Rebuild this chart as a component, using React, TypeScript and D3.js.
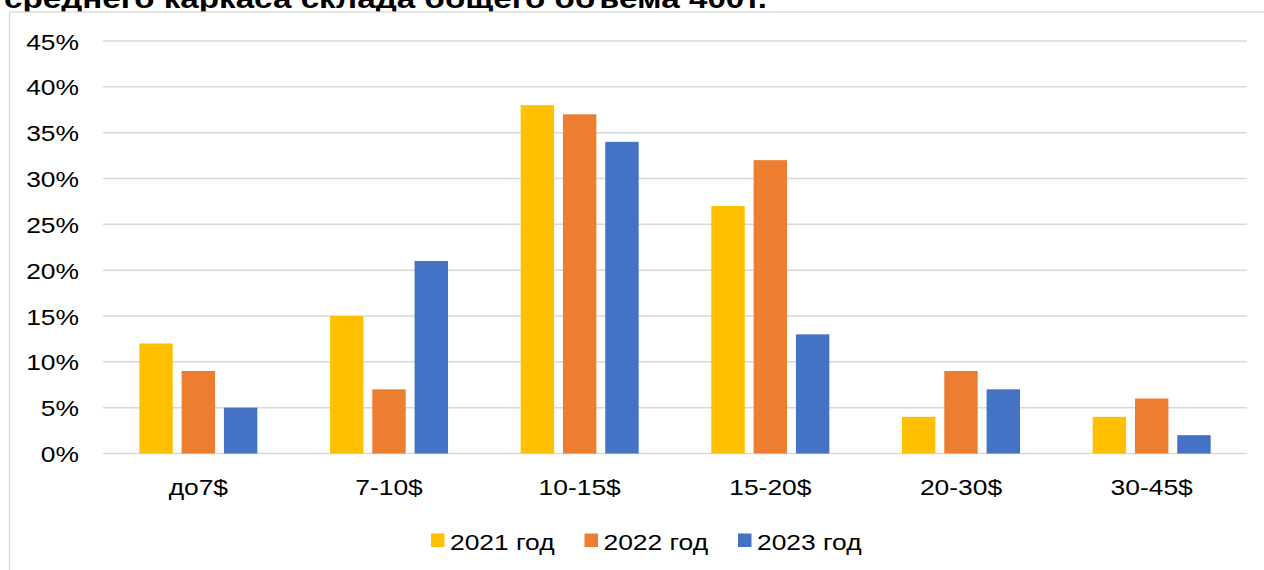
import { useEffect, useRef } from 'react'
import * as d3 from 'd3'

const title = 'среднего каркаса склада общего объема 400т.'
const categories = ['до7$', '7-10$', '10-15$', '15-20$', '20-30$', '30-45$']
const seriesNames = ['2021 год', '2022 год', '2023 год']
const values2021 = [12, 15, 38, 27, 4, 4]
const values2022 = [9, 7, 37, 32, 9, 6]
const values2023 = [5, 21, 34, 13, 7, 2]
const yTicks = [0, 5, 10, 15, 20, 25, 30, 35, 40, 45]
const colors = ['#FFC000', '#ED7D31', '#4472C4']

const W = 1264
const H = 570
const FONT = '"Liberation Sans", Arial, sans-serif'
const SX = 1.2 // в оригинале текст немного растянут по горизонтали

export default function App() {
  const ref = useRef<SVGSVGElement>(null)

  useEffect(() => {
    if (!ref.current) return
    const svg = d3.select(ref.current)
    svg.selectAll('*').remove()

    const series = [values2021, values2022, values2023]

    const label = (
      px: number, py: number, txt: string, anchor: string,
      size = 22, sx = SX, weight = 'normal'
    ) => {
      svg.append('text')
        .attr('transform', `translate(${px},${py}) scale(${sx},1)`)
        .attr('text-anchor', anchor)
        .text(txt)
        .style('font-family', FONT)
        .style('font-size', `${size}px`)
        .style('font-weight', weight)
        .attr('fill', '#000')
    }

    // Заголовок (обрезан сверху)
    label(4, 7.5, title, 'start', 27, 1.23, 'bold')

    // Рамка диаграммы
    svg.append('rect')
      .attr('x', 9.5)
      .attr('y', 12)
      .attr('width', W + 10)
      .attr('height', H)
      .attr('fill', '#fff')
      .attr('stroke', '#d9d9d9')
      .attr('stroke-width', 1.3)

    const x = d3.scaleBand<string>()
      .domain(categories)
      .range([103, 1247])

    const xInner = d3.scaleBand<string>()
      .domain(seriesNames)
      .range([-59, 59])
      .paddingInner(0.21)

    const y = d3.scaleLinear()
      .domain([0, 45])
      .range([453.5, 41])

    // Сетка
    svg.selectAll('.grid')
      .data(yTicks)
      .enter()
      .append('line')
      .attr('x1', 103)
      .attr('x2', 1247)
      .attr('y1', d => y(d))
      .attr('y2', d => y(d))
      .attr('stroke', '#d9d9d9')
      .attr('stroke-width', 1.5)

    // Подписи оси Y
    yTicks.forEach(t => label(79, y(t) + 8.5, `${t}%`, 'end'))

    // Столбцы
    series.forEach((vals, si) => {
      svg.selectAll(`.bar${si}`)
        .data(vals)
        .enter()
        .append('rect')
        .attr('x', (d, i) => (x(categories[i]) || 0) + x.bandwidth() / 2 + (xInner(seriesNames[si]) || 0))
        .attr('y', d => y(d))
        .attr('width', xInner.bandwidth())
        .attr('height', d => y(0) - y(d))
        .attr('fill', colors[si])
    })

    // Подписи категорий
    categories.forEach(c => label((x(c) || 0) + x.bandwidth() / 2, 495, c, 'middle'))

    // Легенда
    seriesNames.forEach((name, i) => {
      const lx = 431 + i * 153.5
      svg.append('rect')
        .attr('x', lx)
        .attr('y', 533.5)
        .attr('width', 13.5)
        .attr('height', 13.5)
        .attr('fill', colors[i])
      label(lx + 19, 549.5, name, 'start')
    })
  }, [])

  return (
    <svg
      ref={ref}
      width={W}
      height={H}
      style={{ position: 'absolute', left: 0, top: 0, background: '#fff' }}
    />
  )
}
